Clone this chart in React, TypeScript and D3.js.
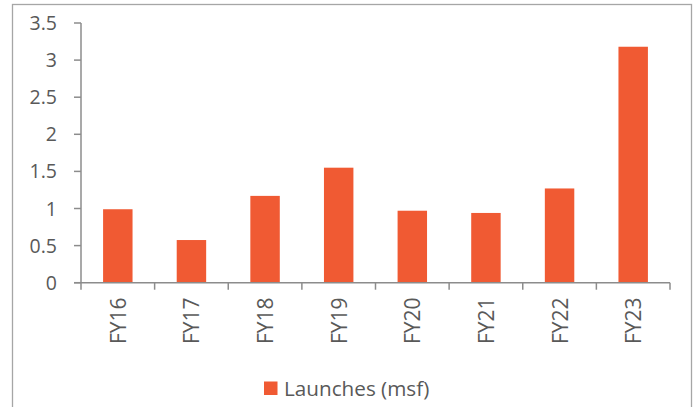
import React from "react";
import * as d3 from "d3";

const categories = ["FY16", "FY17", "FY18", "FY19", "FY20", "FY21", "FY22", "FY23"];
const launches = [0.99, 0.575, 1.17, 1.55, 0.97, 0.94, 1.27, 3.18];
const yTicks = [0, 0.5, 1, 1.5, 2, 2.5, 3, 3.5];
const seriesName = "Launches (msf)";

const W = 696, H = 407;
const FONT = "'Open Sans', sans-serif";
const TXT = "#595959";
const AXIS = "#8c8c8c";
const BAR = "#F05A33";

export default function App() {
  const x = d3.scaleBand<string>().domain(categories).range([81, 670]).paddingInner(0.6).paddingOuter(0.3);
  const xb = d3.scaleBand<string>().domain(categories).range([81, 670]);
  const y = d3.scaleLinear().domain([0, 3.5]).range([282.7, 23]);
  return (
    <svg width={W} height={H} style={{ position: "absolute", left: 0, top: 0 }}>
      <rect x={12.5} y={4.5} width={679} height={420} fill="#fff" stroke="#a6a6a6" strokeWidth={1.3} />
      {categories.map((c, i) => (
        <rect key={c} x={x(c)} y={y(launches[i])} width={x.bandwidth()} height={y(0) - y(launches[i])} fill={BAR} />
      ))}
      <line x1={81} x2={81} y1={y(3.5)} y2={y(0)} stroke={AXIS} strokeWidth={1.5} />
      {yTicks.map((t) => (
        <g key={t}>
          <line x1={74} x2={81} y1={y(t)} y2={y(t)} stroke={AXIS} strokeWidth={1.5} />
          <text x={57} y={y(t)} dy="0.36em" textAnchor="end" fontFamily={FONT} fontSize={19.5} fill={TXT}>{t}</text>
        </g>
      ))}
      <line x1={74} x2={670} y1={y(0)} y2={y(0)} stroke={AXIS} strokeWidth={1.5} />
      {[...categories.map((c) => xb(c) as number), 670].map((p, i) => (
        <line key={i} x1={p} x2={p} y1={y(0)} y2={y(0) + 7} stroke={AXIS} strokeWidth={1.5} />
      ))}
      {categories.map((c) => {
        const cx = (xb(c) as number) + xb.bandwidth() / 2;
        return (
          <text key={c} transform={`translate(${cx + 8},297.5) rotate(-90)`} textAnchor="end" fontFamily={FONT} fontSize={21} fill={TXT}>{c}</text>
        );
      })}
      <rect x={264} y={381.5} width={13.5} height={13.5} fill={BAR} />
      <text x={284} y={396} fontFamily={FONT} fontSize={20.7} fill={TXT}>{seriesName}</text>
    </svg>
  );
}
